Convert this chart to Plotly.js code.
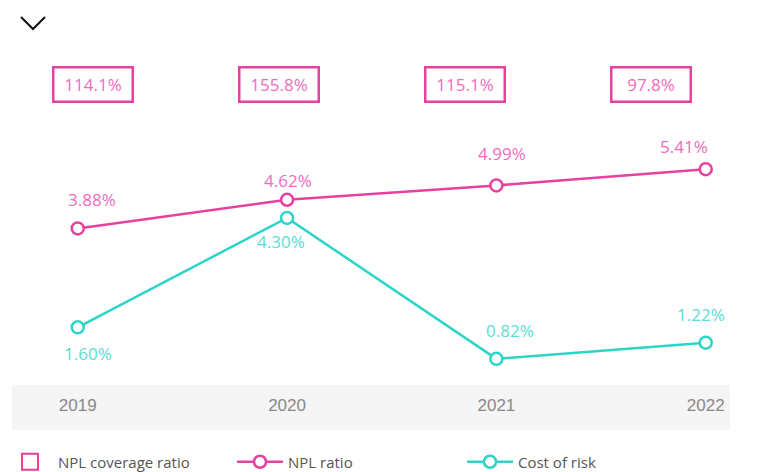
<!DOCTYPE html>
<html>
<head>
<meta charset="utf-8">
<script src="https://cdn.plot.ly/plotly-3.0.1.min.js"></script>
<style>html,body{margin:0;padding:0;background:#fff;}#chart{width:759px;height:472px;}</style>
</head>
<body>
<div id="chart"></div>
<script>
// ---- data ----
var years = ['2019', '2020', '2021', '2022'];
var nplRatio = [3.88, 4.62, 4.99, 5.41];
var costOfRisk = [1.60, 4.30, 0.82, 1.22];
var nplCoverage = [114.1, 155.8, 115.1, 97.8];

// ---- styles ----
var PINK = '#e8409f', PINK_TXT = '#f06bbd';
var TEAL = '#2dd4c8', TEAL_TXT = '#5cddd4';
var FONT = 'Open Sans, sans-serif';
var xIdx = years.map(function (_, i) { return i; });

var nplShift = [[14, 29], [1, 19], [6, 32], [-22, 23]];
var corShift = [[10, -26], [-6, -24], [14, 28], [-5, 28]];

var traces = [
  { type: 'scatter', mode: 'markers', name: 'NPL coverage ratio', x: [null], y: [null],
    marker: { symbol: 'square-open', size: 16, color: PINK, line: { width: 2, color: PINK } },
    hoverinfo: 'skip' },
  { type: 'scatter', mode: 'lines+markers', name: 'NPL ratio', x: xIdx, y: nplRatio, yaxis: 'y',
    line: { color: PINK, width: 2.5 },
    marker: { symbol: 'circle', size: 12, color: '#ffffff', line: { color: PINK, width: 2.5 } } },
  { type: 'scatter', mode: 'lines+markers', name: 'Cost of risk', x: xIdx, y: costOfRisk, yaxis: 'y2',
    line: { color: TEAL, width: 2.5 },
    marker: { symbol: 'circle', size: 12, color: '#ffffff', line: { color: TEAL, width: 2.5 } } }
];

var annotations = [];
nplRatio.forEach(function (v, i) {
  annotations.push({ x: i, y: v, xref: 'x', yref: 'y', text: v.toFixed(2) + '%', showarrow: false,
    xshift: nplShift[i][0], yshift: nplShift[i][1], font: { family: FONT, size: 17, color: PINK_TXT } });
});
costOfRisk.forEach(function (v, i) {
  annotations.push({ x: i, y: v, xref: 'x', yref: 'y2', text: v.toFixed(2) + '%', showarrow: false,
    xshift: corShift[i][0], yshift: corShift[i][1], font: { family: FONT, size: 17, color: TEAL_TXT } });
});
nplCoverage.forEach(function (v, i) {
  var px = 93.3 + 185.8 * i;
  annotations.push({ x: (px - 12) / 718, y: (385 - 84.5) / 345, xref: 'paper', yref: 'paper',
    xanchor: 'center', yanchor: 'middle',
    text: v.toFixed(1) + '%', showarrow: false, width: 73, height: 28, borderpad: 2,
    bordercolor: PINK, borderwidth: 2.5, bgcolor: '#ffffff',
    font: { family: FONT, size: 17, color: PINK_TXT } });
});

function px2x(p) { return (p - 12) / 718; }
function py2y(p) { return (385 - p) / 345; }

var layout = {
  width: 759, height: 472,
  margin: { l: 12, r: 29, t: 40, b: 87, autoexpand: false },
  paper_bgcolor: '#ffffff', plot_bgcolor: 'rgba(0,0,0,0)',
  font: { family: FONT, color: '#555' },
  showlegend: true,
  legend: { orientation: 'h', x: px2x(2), xanchor: 'left', y: py2y(462), yanchor: 'middle',
    font: { family: FONT, size: 15, color: '#555' }, itemwidth: 46,
    entrywidth: 169, entrywidthmode: 'pixels', bgcolor: 'rgba(0,0,0,0)' },
  xaxis: { range: [-0.314, 3.116], tickmode: 'array', tickvals: xIdx, ticktext: years,
    showgrid: false, zeroline: false, showline: false, ticks: '', fixedrange: true,
    ticklabelstandoff: 8,
    tickfont: { family: 'Liberation Sans Narrow, sans-serif', size: 17, color: '#888' } },
  yaxis: { range: [-0.163, 8.745], visible: false, fixedrange: true },
  yaxis2: { range: [0.175, 8.692], overlaying: 'y', visible: false, fixedrange: true },
  shapes: [
    { type: 'rect', xref: 'paper', yref: 'paper', x0: 0, x1: 1, y0: py2y(430), y1: py2y(385),
      fillcolor: '#f5f5f5', line: { width: 0 }, layer: 'below' },
    { type: 'path', xref: 'paper', yref: 'paper',
      path: 'M' + px2x(21) + ',' + py2y(17) + ' L' + px2x(33) + ',' + py2y(29) + ' L' + px2x(45) + ',' + py2y(17),
      line: { color: '#111', width: 2 } }
  ],
  annotations: annotations
};

Plotly.newPlot('chart', traces, layout, { displayModeBar: false, staticPlot: true });
</script>
</body>
</html>
